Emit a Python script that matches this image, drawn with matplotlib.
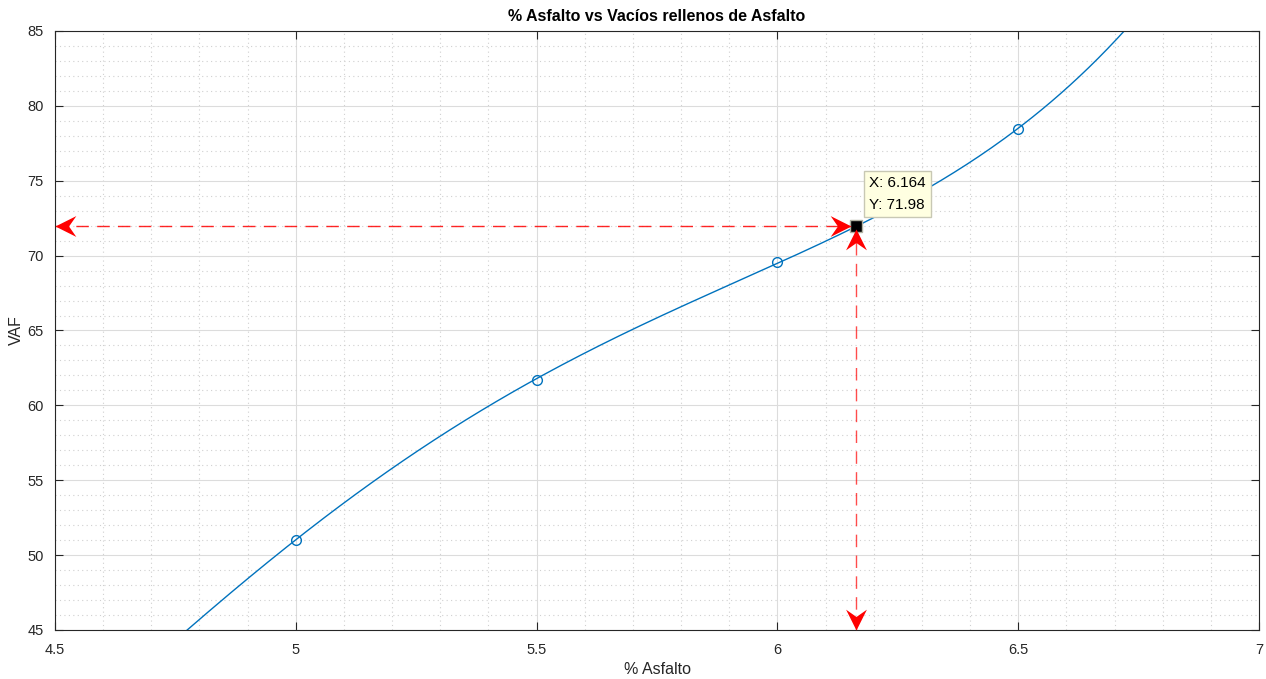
import numpy as np
import matplotlib.pyplot as plt
from matplotlib.path import Path
from matplotlib.ticker import MultipleLocator

# puntos medidos
asfalto = [5.0, 5.5, 6.0, 6.5]
vaf = [51.0, 61.7, 69.55, 78.45]

# curva de ajuste
curva_x = [4.773, 4.8, 4.9, 5.0, 5.1, 5.2, 5.3, 5.4, 5.5, 5.6, 5.7, 5.8, 5.9,
           6.0, 6.1, 6.2, 6.3, 6.4, 6.5, 6.6, 6.7, 6.718]
curva_y = [45.0, 45.7, 48.35, 51.0, 53.5, 55.85, 58.05, 60.0, 61.72, 63.4,
           65.0, 66.55, 68.05, 69.55, 71.05, 72.62, 74.25, 76.2, 78.45, 81.1,
           84.3, 85.0]

# datatip
tip_x = 6.164
tip_y = 71.98

plt.rcParams['font.family'] = ['Liberation Sans', 'DejaVu Sans']
gris = '#262626'


def punta(dx, dy):
    # punta de flecha con la base concava, vertice en (0,0)
    pts = [(0, 0), (-1, 0.5), (-0.65, 0), (-1, -0.5), (0, 0)]
    if dy == 0:
        v = [(x * dx, y) for x, y in pts]
    else:
        v = [(y, x * dy) for x, y in pts]
    return Path(v, [Path.MOVETO, Path.LINETO, Path.LINETO, Path.LINETO, Path.CLOSEPOLY])


fig = plt.figure(figsize=(12.66, 6.79), dpi=100)
ax = fig.add_axes([55 / 1266, 1 - 630 / 679, (1259 - 55) / 1266, (630 - 31) / 679])

ax.set_xlim(4.5, 7)
ax.set_ylim(45, 85)
ax.xaxis.set_minor_locator(MultipleLocator(0.1))
ax.yaxis.set_minor_locator(MultipleLocator(1))
ax.yaxis.set_major_locator(MultipleLocator(5))
ax.set_xticks([4.5, 5, 5.5, 6, 6.5, 7])
ax.set_xticklabels(['4.5', '5', '5.5', '6', '6.5', '7'])

ax.grid(True, which='major', color='#dcdcdc', lw=0.8, ls='-')
ax.grid(True, which='minor', color='#d0d0d0', lw=0.8, ls=(0, (1, 3)))
ax.set_axisbelow(True)
ax.tick_params(which='major', direction='in', length=6, width=0.8, colors=gris,
               top=True, right=True, labelsize=10.5)
ax.tick_params(axis='x', which='major', pad=9)
ax.tick_params(axis='y', which='major', pad=8)
ax.tick_params(which='minor', length=0, top=True, right=True)
for s in ax.spines.values():
    s.set_color(gris)
    s.set_linewidth(0.8)

# curva suavizada con ajuste polinomico (como en el original)
coef = np.polyfit(curva_x, curva_y, 4)
xs = np.linspace(curva_x[0], curva_x[-1], 300)
ax.plot(xs, np.polyval(coef, xs), color='#0072BD', lw=1)
ax.plot(asfalto, vaf, 'o', mfc='none', mec='#0072BD', ms=7, mew=1)

# lineas de lectura
ax.plot([4.5, tip_x], [tip_y, tip_y], color='red', lw=1, ls=(0, (9, 6)), alpha=0.85)
ax.plot([tip_x, tip_x], [45, tip_y], color='red', lw=1, ls=(0, (9, 6)), alpha=0.7)
ms_f = 30
ax.plot([4.5], [tip_y], marker=punta(-1, 0), ms=ms_f, color='red', mew=0, ls='none', clip_on=False, zorder=6)
ax.plot([tip_x - 0.012], [tip_y], marker=punta(1, 0), ms=ms_f, color='red', mew=0, ls='none', zorder=6)
ax.plot([tip_x], [45], marker=punta(0, -1), ms=ms_f, color='red', mew=0, ls='none', clip_on=False, zorder=6)
ax.plot([tip_x], [tip_y - 0.2], marker=punta(0, 1), ms=ms_f, color='red', mew=0, ls='none', zorder=6)

ax.plot([tip_x], [tip_y], 's', color='black', mec='#b0b0a0', ms=8, zorder=5)
ax.text(tip_x + 0.026, tip_y + 0.95, 'X: 6.164\nY: 71.98', fontsize=11,
        color='black', ha='left', va='bottom', linespacing=1.7,
        bbox=dict(boxstyle='square,pad=0.35', fc='#ffffe1', ec='#c8c8b4', lw=1))

ax.set_title('% Asfalto vs Vacíos rellenos de Asfalto', fontsize=11.5,
             fontweight='bold', color='black', pad=7)
ax.set_xlabel('% Asfalto', fontsize=11.5, color=gris, labelpad=4)
ax.set_ylabel('VAF', fontsize=11.5, color=gris, va='center')
ax.yaxis.set_label_coords(-39 / 1204, 0.5)

fig.savefig('out.png', dpi=100)
